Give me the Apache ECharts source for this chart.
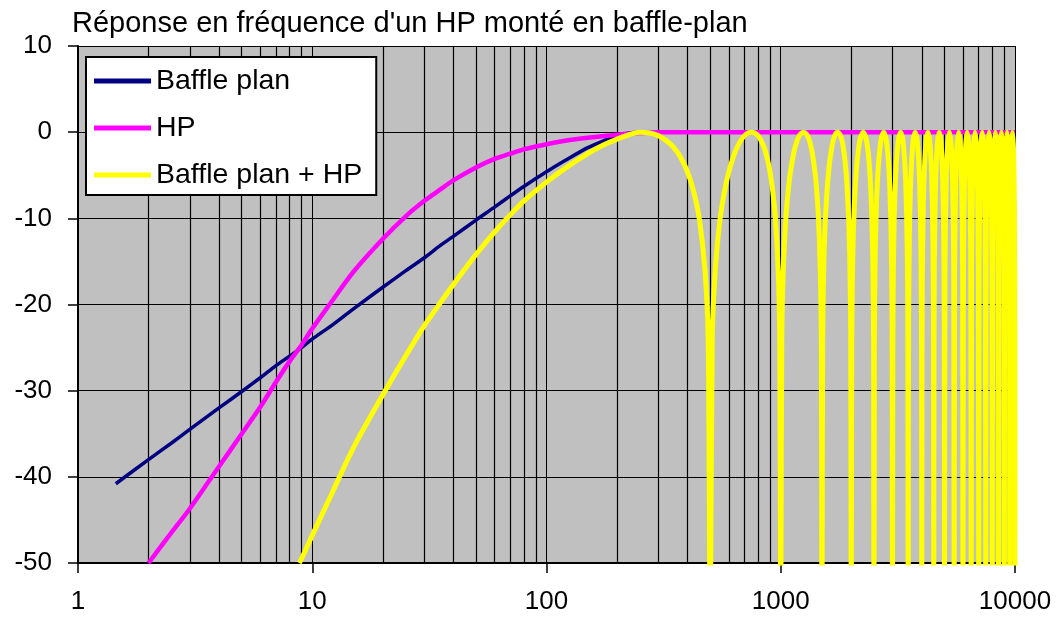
<!DOCTYPE html>
<html><head><meta charset="utf-8">
<script src="https://cdn.jsdelivr.net/npm/echarts@6/dist/echarts.min.js"></script>
<style>html,body{margin:0;padding:0;background:#fff}#c{width:1060px;height:621px}</style>
</head><body><div id="c"></div>
<script>
const titleText = "Réponse en fréquence d'un HP monté en baffle-plan";
const seriesNames = ['Baffle plan', 'HP', 'Baffle plan + HP'];

// Baffle plan (low-frequency part)
const baffleFreq = [1.45, 2, 2.5, 3, 4, 5, 6, 7, 8, 9, 10, 12, 15, 20, 25, 30, 35, 40, 50, 60, 70, 80, 100, 120, 150, 175, 200, 225, 250];
const baffleDb   = [-40.8, -38.0, -36.1, -34.5, -32.0, -30.1, -28.5, -27.1, -26.0, -25.0, -24.0, -22.5, -20.5, -18.0, -16.1, -14.6, -13.2, -12.1, -10.2, -8.7, -7.4, -6.3, -4.6, -3.3, -1.8, -1.0, -0.4, -0.1, 0];

// HP
const hpFreq = [2, 2.5, 3, 4, 5, 6, 7, 8, 9, 10, 12, 15, 20, 25, 30, 35, 40, 50, 60, 70, 80, 100, 120, 150, 200, 250, 300, 10000];
const hpDb   = [-50, -46.5, -43.7, -38.8, -35.0, -31.9, -29.0, -26.6, -24.7, -22.8, -19.8, -16.2, -12.4, -9.8, -8.0, -6.7, -5.6, -4.1, -3.1, -2.5, -2.0, -1.4, -1.0, -0.65, -0.3, -0.1, 0, 0];

// Baffle plan + HP (low-frequency part)
const sumFreq = [8.8, 9, 10, 12, 15, 20, 25, 30, 35, 40, 50, 60, 70, 80, 100, 120, 150, 175, 200, 225, 250];
const sumDb   = [-50, -49.5, -46.8, -42.2, -36.6, -30.5, -26.0, -22.5, -19.9, -17.7, -14.2, -11.6, -9.6, -8.0, -5.8, -4.2, -2.5, -1.5, -0.8, -0.3, 0];

// Comb-filter region (shared by "Baffle plan" and "Baffle plan + HP"), [Hz, dB]
const comb1 = [
  [275,-0.1],[300,-0.4],[325,-1.0],[350,-1.8],[375,-3.0],[400,-4.6],[425,-6.9],[450,-10.2],[475,-16.1],[490,-24.0],[500,-60],
  [510,-24.0],[525,-16.1],[550,-10.2],[575,-6.9],[600,-4.6],[625,-3.0],[650,-1.8],[675,-1.0],[700,-0.4],[725,-0.1],[750,0],
  [775,-0.1],[800,-0.4],[825,-1.0],[850,-1.8],[875,-3.0],[900,-4.6],[925,-6.9],[950,-10.2],[975,-16.1],[990,-24.0],[1000,-60]
];
const comb2 = [
  [1010,-24.0],[1025,-16.1],[1050,-10.2],[1075,-6.9],[1100,-4.6],[1150,-1.8],[1200,-0.4],[1250,0],[1300,-0.4],[1350,-1.8],[1400,-4.6],[1425,-6.9],[1450,-10.2],[1475,-16.1],[1490,-24.0],[1500,-60],
  [1510,-24.0],[1525,-16.1],[1550,-10.2],[1600,-4.6],[1650,-1.8],[1700,-0.4],[1750,0],[1800,-0.4],[1850,-1.8],[1900,-4.6],[1950,-10.2],[1975,-16.1],[1990,-24.0],[2000,-60]
];
const comb3 = [
  [2010,-24.0],[2025,-16.1],[2050,-10.2],[2100,-4.6],[2175,-1.0],[2250,0],[2325,-1.0],[2400,-4.6],[2450,-10.2],[2475,-16.1],[2490,-24.0],[2500,-60],
  [2510,-24.0],[2525,-16.1],[2550,-10.2],[2600,-4.6],[2675,-1.0],[2750,0],[2825,-1.0],[2900,-4.6],[2950,-10.2],[2975,-16.1],[2990,-24.0],[3000,-60],
  [3010,-24.0],[3025,-16.1],[3050,-10.2],[3100,-4.6],[3175,-1.0],[3250,0],[3325,-1.0],[3400,-4.6],[3450,-10.2],[3475,-16.1],[3490,-24.0],[3500,-60],
  [3510,-24.0],[3525,-16.1],[3550,-10.2],[3600,-4.6],[3675,-1.0],[3750,0],[3825,-1.0],[3900,-4.6],[3950,-10.2],[3975,-16.1],[3990,-24.0],[4000,-60],
  [4010,-24.0],[4025,-16.1],[4050,-10.2],[4100,-4.6],[4175,-1.0],[4250,0],[4325,-1.0],[4400,-4.6],[4450,-10.2],[4475,-16.1],[4490,-24.0],[4500,-60],
  [4510,-24.0],[4525,-16.1],[4550,-10.2],[4600,-4.6],[4675,-1.0],[4750,0],[4825,-1.0],[4900,-4.6],[4950,-10.2],[4975,-16.1],[4990,-24.0],[5000,-60]
];
const comb4 = [
  [5025,-16.1],[5075,-6.9],[5150,-1.8],[5250,0],[5350,-1.8],[5425,-6.9],[5475,-16.1],[5500,-60],
  [5525,-16.1],[5575,-6.9],[5650,-1.8],[5750,0],[5850,-1.8],[5925,-6.9],[5975,-16.1],[6000,-60],
  [6025,-16.1],[6075,-6.9],[6150,-1.8],[6250,0],[6350,-1.8],[6425,-6.9],[6475,-16.1],[6500,-60],
  [6525,-16.1],[6575,-6.9],[6650,-1.8],[6750,0],[6850,-1.8],[6925,-6.9],[6975,-16.1],[7000,-60],
  [7025,-16.1],[7075,-6.9],[7150,-1.8],[7250,0],[7350,-1.8],[7425,-6.9],[7475,-16.1],[7500,-60],
  [7525,-16.1],[7575,-6.9],[7650,-1.8],[7750,0],[7850,-1.8],[7925,-6.9],[7975,-16.1],[8000,-60],
  [8025,-16.1],[8075,-6.9],[8150,-1.8],[8250,0],[8350,-1.8],[8425,-6.9],[8475,-16.1],[8500,-60],
  [8525,-16.1],[8575,-6.9],[8650,-1.8],[8750,0],[8850,-1.8],[8925,-6.9],[8975,-16.1],[9000,-60],
  [9025,-16.1],[9075,-6.9],[9150,-1.8],[9250,0],[9350,-1.8],[9425,-6.9],[9475,-16.1],[9500,-60],
  [9525,-16.1],[9575,-6.9],[9650,-1.8],[9750,0],[9850,-1.8],[9925,-6.9],[9975,-16.1],[10000,-60]
];

// Axis ticks
const yTicks = { min: -50, max: 10, step: 10 };
const xRange = { min: 1, max: 10000 };
const minorGrid = [2,3,4,5,6,7,8,9, 20,30,40,50,60,70,80,90, 200,300,400,500,600,700,800,900, 2000,3000,4000,5000,6000,7000,8000,9000];

const zip = (xs, ys) => xs.map((x, i) => [x, ys[i]]);
const comb = comb1.concat(comb2, comb3, comb4);

const FONT = "'Liberation Sans', Arial, sans-serif";
const lineBase = { type: 'line', z: 3, symbol: 'none', showSymbol: false, silent: true, smooth: 0.3 };
const chart = echarts.init(document.getElementById('c'), null, { renderer: 'canvas' });
chart.setOption({
  animation: false,
  backgroundColor: '#ffffff',
  title: {
    text: titleText, left: 72, top: 9, padding: 0,
    textStyle: { fontFamily: FONT, fontSize: 29, fontWeight: 'normal', color: '#000' }
  },
  legend: {
    data: seriesNames, orient: 'vertical', left: 86, top: 57, z: 10,
    backgroundColor: '#ffffff', borderColor: '#000', borderWidth: 2, borderRadius: 0,
    padding: [9, 14, 5, 8], itemGap: 17, itemWidth: 57, itemHeight: 5, icon: 'rect',
    textStyle: { fontFamily: FONT, fontSize: 28.5, color: '#000', lineHeight: 30 },
    selectedMode: false
  },
  grid: { left: 78, right: 45, top: 46, bottom: 58, show: true, backgroundColor: '#c0c0c0', borderWidth: 0 },
  xAxis: [{
    type: 'log', logBase: 10, min: xRange.min, max: xRange.max,
    axisLine: { show: true, onZero: false, lineStyle: { color: '#000', width: 2 } },
    axisTick: { show: true, length: 10, lineStyle: { color: '#000', width: 1.5 } },
    axisLabel: { color: '#000', fontFamily: FONT, fontSize: 26, margin: 26, formatter: v => String(Math.round(v)) },
    splitLine: { show: true, lineStyle: { color: '#000', width: 1 } }
  }, {
    type: 'log', logBase: 10, min: xRange.min, max: xRange.max, position: 'bottom',
    axisLine: { show: false, onZero: false }, axisLabel: { show: false },
    axisTick: { show: false, customValues: minorGrid },
    splitLine: { show: true, lineStyle: { color: '#000', width: 1.2 } }
  }],
  yAxis: {
    type: 'value', min: yTicks.min, max: yTicks.max, interval: yTicks.step,
    axisLine: { show: true, onZero: false, lineStyle: { color: '#000', width: 2 } },
    axisTick: { show: true, length: 10, lineStyle: { color: '#000', width: 1.5 } },
    axisLabel: { color: '#000', fontFamily: FONT, fontSize: 26, margin: 26 },
    splitLine: { show: true, lineStyle: { color: '#000', width: 1 } }
  },
  series: [
    Object.assign({}, lineBase, {
      name: seriesNames[0], color: '#000080', lineStyle: { color: '#000080', width: 3.5 },
      data: zip(baffleFreq, baffleDb).concat(comb)
    }),
    Object.assign({}, lineBase, {
      name: seriesNames[1], color: '#ff00ff', lineStyle: { color: '#ff00ff', width: 4.5 },
      data: zip(hpFreq, hpDb)
    }),
    Object.assign({}, lineBase, {
      name: seriesNames[2], color: '#ffff00', lineStyle: { color: '#ffff00', width: 5 },
      data: zip(sumFreq, sumDb).concat(comb)
    })
  ]
});
</script></body></html>
